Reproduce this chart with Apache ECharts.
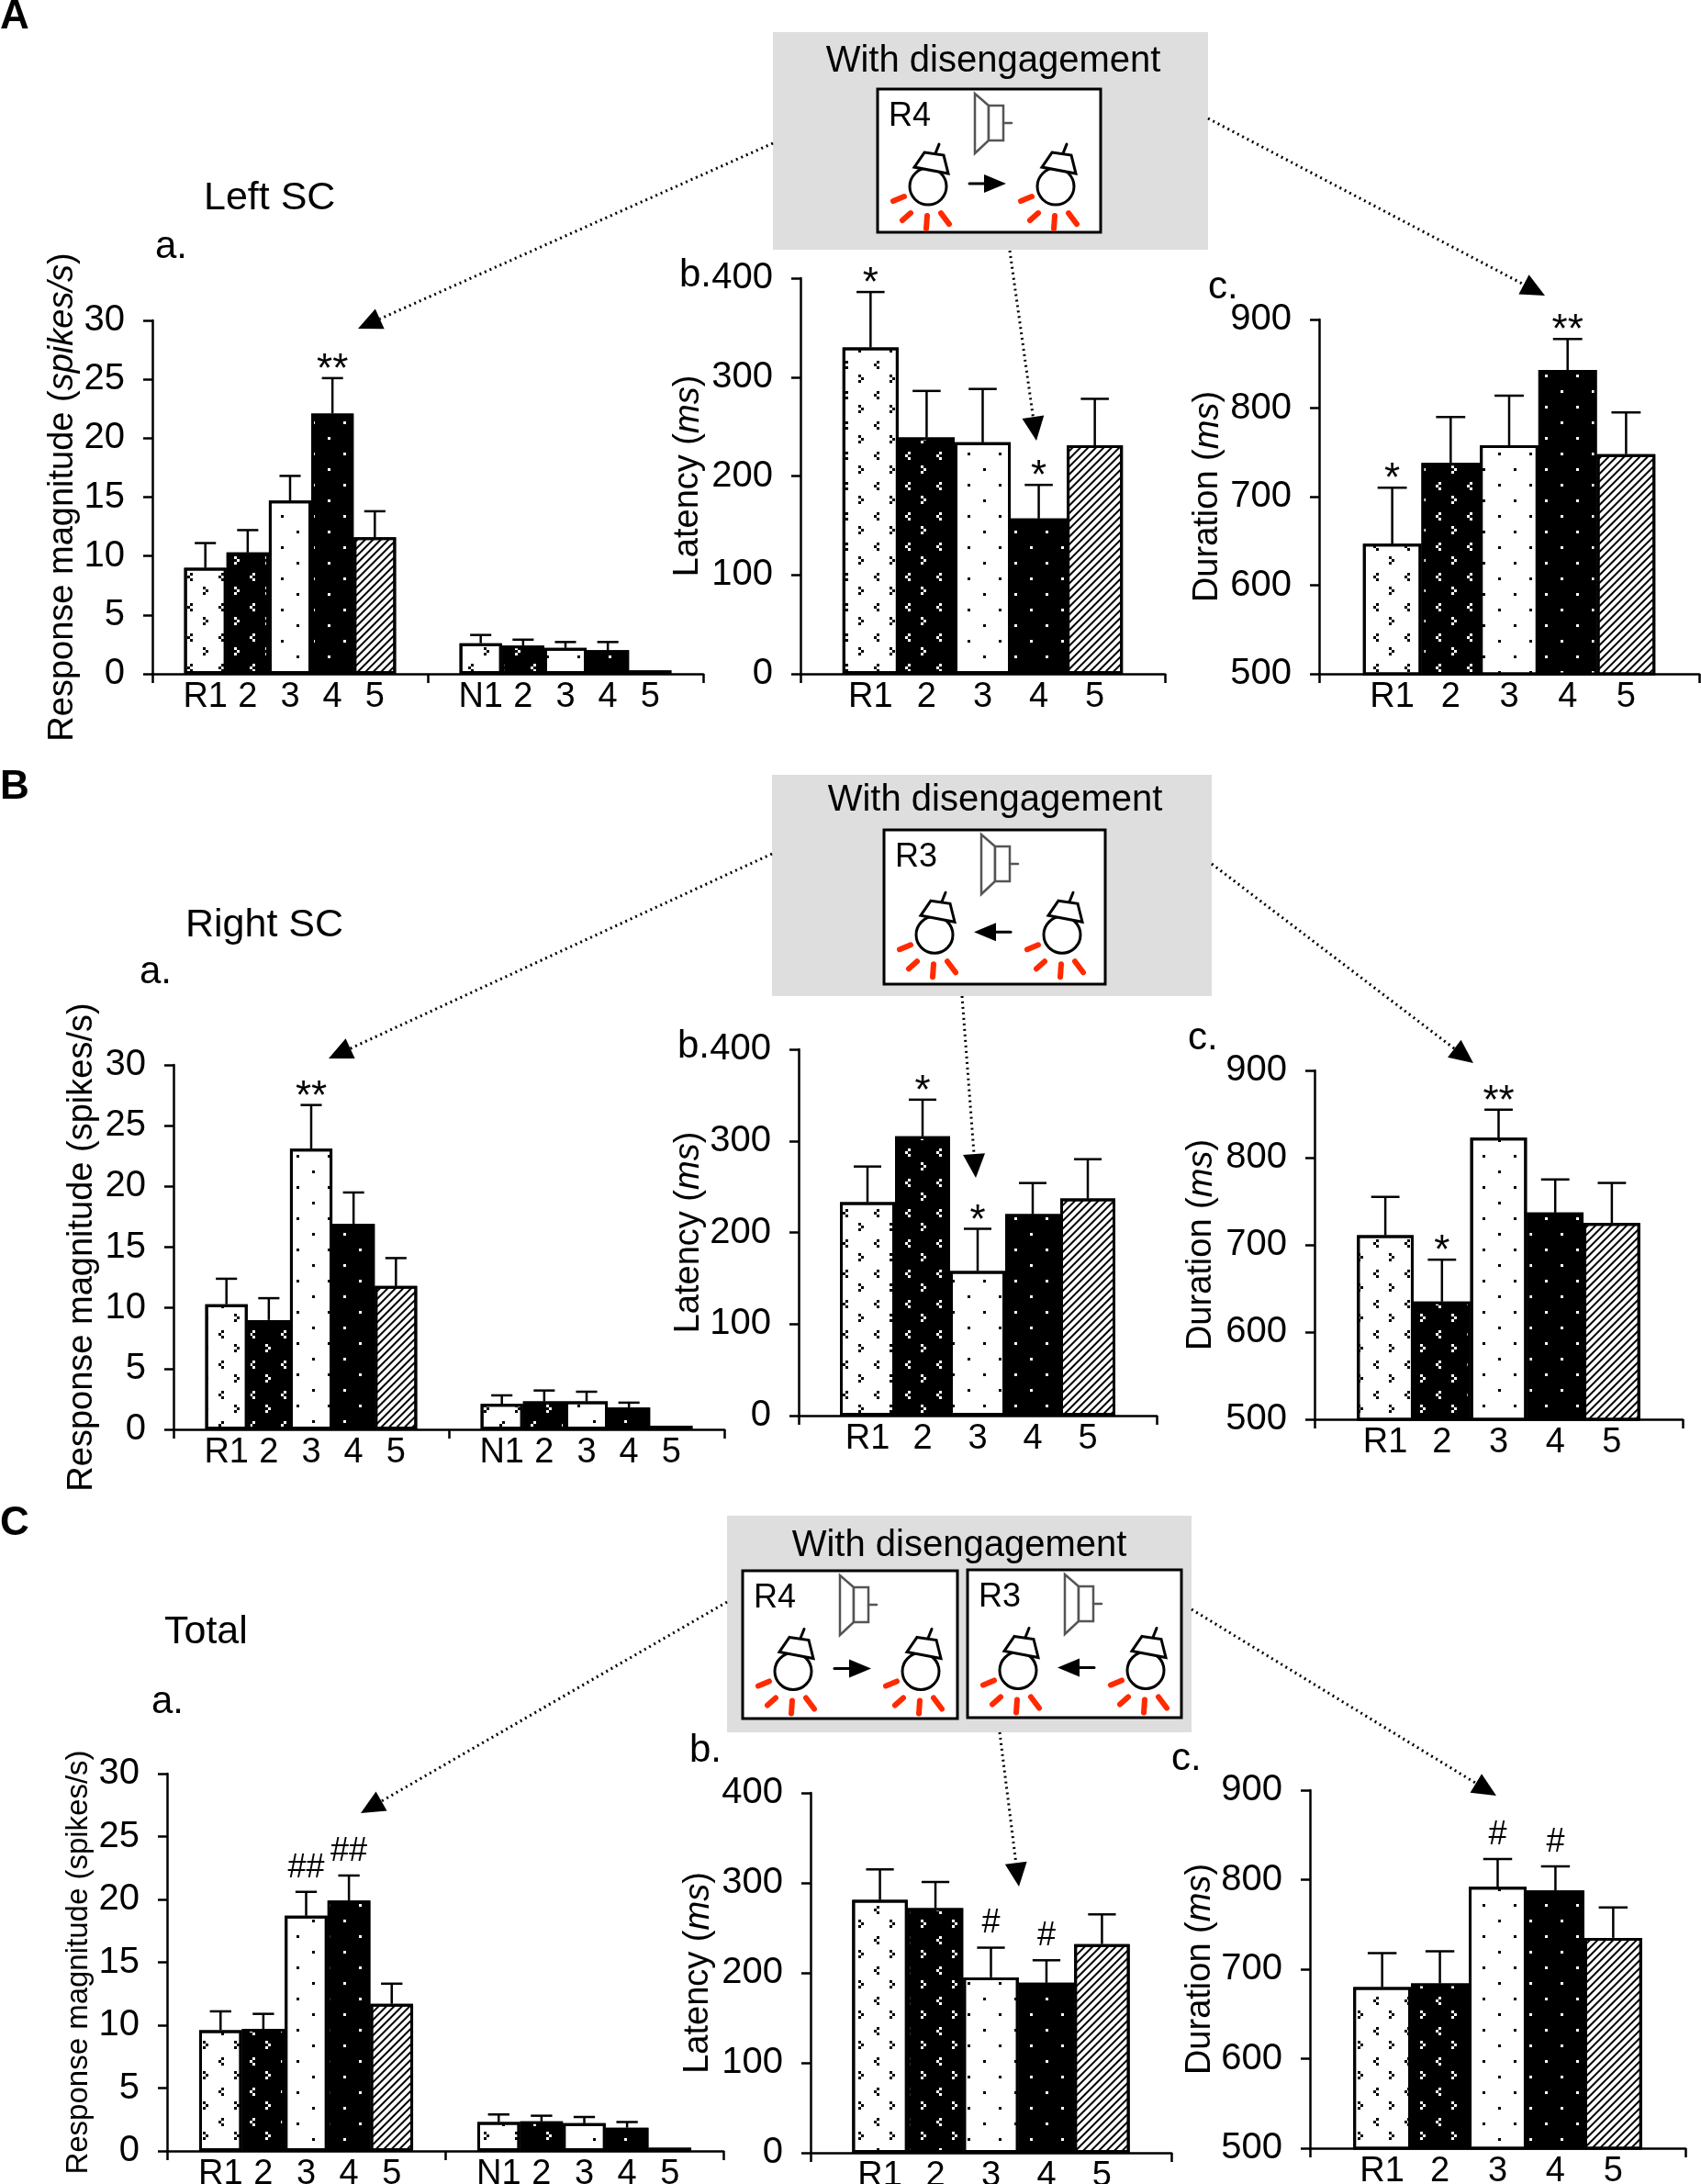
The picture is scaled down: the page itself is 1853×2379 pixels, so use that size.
<!DOCTYPE html>
<html>
<head>
<meta charset="utf-8">
<title>With disengagement - SC responses</title>
<script src="https://cdn.jsdelivr.net/npm/echarts@6/dist/echarts.min.js"></script>
<style>
html,body{margin:0;padding:0;background:#fff}
#chart{width:1853px;height:2379px}
</style>
</head>
<body>
<div id="chart"></div>
<script>
var FONT = "'Liberation Sans', Arial, Helvetica, sans-serif";

// category labels
var rLabels = ['R1', '2', '3', '4', '5'];
var nLabels = ['N1', '2', '3', '4', '5'];

// y axis ticks
var magTicks = [0, 5, 10, 15, 20, 25, 30];
var latTicks = [0, 100, 200, 300, 400];
var durTicks = [500, 600, 700, 800, 900];

// A. Left SC
var leftMagR = [9.0, 10.3, 14.7, 22.1, 11.6];
var leftMagRSem = [2.1, 1.9, 2.1, 3.0, 2.2];
var leftMagRSig = ['', '', '', '**', ''];
var leftMagN = [2.6, 2.4, 2.2, 2.0, 0.3];
var leftMagNSem = [0.7, 0.5, 0.5, 0.7, 0];
var leftLat = [330, 239, 234, 157, 231];
var leftLatSem = [56, 47, 54, 34, 47];
var leftLatSig = ['*', '', '', '*', ''];
var leftDur = [647, 738, 758, 843, 748];
var leftDurSem = [63, 52, 56, 35, 47];
var leftDurSig = ['*', '', '', '**', ''];

// B. Right SC
var rightMagR = [10.3, 9.0, 23.1, 16.9, 11.8];
var rightMagRSem = [2.1, 1.8, 3.6, 2.6, 2.3];
var rightMagRSig = ['', '', '**', '', ''];
var rightMagN = [2.1, 2.3, 2.3, 1.8, 0.3];
var rightMagNSem = [0.7, 0.9, 0.8, 0.4, 0];
var rightLat = [233, 305, 158, 220, 237];
var rightLatSem = [39, 40, 46, 34, 43];
var rightLatSig = ['', '*', '*', '', ''];
var rightDur = [711, 635, 823, 737, 725];
var rightDurSem = [44, 48, 32, 38, 46];
var rightDurSig = ['', '*', '**', '', ''];

// C. Total
var totalMagR = [9.6, 9.7, 18.7, 19.9, 11.7];
var totalMagRSem = [1.5, 1.2, 1.9, 2.0, 1.6];
var totalMagRSig = ['', '', '##', '##', ''];
var totalMagN = [2.3, 2.35, 2.2, 1.85, 0.25];
var totalMagNSem = [0.6, 0.45, 0.5, 0.45, 0];
var totalLat = [281, 272, 195, 189, 232];
var totalLatSem = [34, 29, 33, 25, 33];
var totalLatSig = ['', '', '#', '#', ''];
var totalDur = [680, 684, 792, 788, 735];
var totalDurSem = [38, 36, 31, 27, 34];
var totalDurSig = ['', '', '#', '#', ''];

// bar fills (R1..5) as decal patterns: chevrons, dots, hatching
var chevX = [[0, 3, 3, 28], [3, 31], [0, 3, 3, 28], [0, 34], [0, 34],
             [0, 17, 3, 14], [0, 20, 3, 11], [0, 17, 3, 14], [0, 34], [0, 34], [0, 34]];
var dotX = [[3, 31], [0, 17, 3, 14]];
var fills = [
  {color: '#fff', decal: {symbol: 'rect', symbolSize: 1, color: '#000', dashArrayX: chevX, dashArrayY: [3, 0]}},
  {color: '#000', decal: {symbol: 'rect', symbolSize: 1, color: '#fff', dashArrayX: chevX, dashArrayY: [3, 0]}},
  {color: '#fff', decal: {symbol: 'rect', symbolSize: 1, color: '#000', dashArrayX: dotX, dashArrayY: [3, 14]}},
  {color: '#000', decal: {symbol: 'rect', symbolSize: 1, color: '#fff', dashArrayX: dotX, dashArrayY: [3, 14]}},
  {color: '#fff', decal: {symbol: 'rect', symbolSize: 1, color: '#000', rotation: -Math.PI / 4, dashArrayX: [1, 0], dashArrayY: [2, 4]}}
];

var panels = [
  {box: [166, 349, 766, 734], ticks: magTicks, name: 'Response magnitude ({i|spikes/s})', gap: 76, nameSize: 38,
   groups: [{v: leftMagR, e: leftMagRSem, s: leftMagRSig, l: rLabels}, {v: leftMagN, e: leftMagNSem, s: null, l: nLabels}]},
  {box: [872, 303, 1269, 734], ticks: latTicks, name: 'Latency ({i|ms})', gap: 103, nameSize: 38,
   groups: [{v: leftLat, e: leftLatSem, s: leftLatSig, l: rLabels}]},
  {box: [1437, 348, 1851, 734], ticks: durTicks, name: 'Duration ({i|ms})', gap: 102, nameSize: 38,
   groups: [{v: leftDur, e: leftDurSem, s: leftDurSig, l: rLabels}]},
  {box: [189, 1160, 789, 1557], ticks: magTicks, name: 'Response magnitude (spikes/s)', gap: 80, nameSize: 38,
   groups: [{v: rightMagR, e: rightMagRSem, s: rightMagRSig, l: rLabels}, {v: rightMagN, e: rightMagNSem, s: null, l: nLabels}]},
  {box: [870, 1143, 1260, 1542], ticks: latTicks, name: 'Latency ({i|ms})', gap: 99, nameSize: 38,
   groups: [{v: rightLat, e: rightLatSem, s: rightLatSig, l: rLabels}]},
  {box: [1432, 1166, 1833, 1546], ticks: durTicks, name: 'Duration ({i|ms})', gap: 104, nameSize: 38,
   groups: [{v: rightDur, e: rightDurSem, s: rightDurSig, l: rLabels}]},
  {box: [182, 1932, 788, 2343], ticks: magTicks, name: 'Response magnitude (spikes/s)', gap: 80, nameSize: 33,
   groups: [{v: totalMagR, e: totalMagRSem, s: totalMagRSig, l: rLabels}, {v: totalMagN, e: totalMagNSem, s: null, l: nLabels}]},
  {box: [883, 1953, 1276, 2345], ticks: latTicks, name: 'Latency ({i|ms})', gap: 103, nameSize: 38,
   groups: [{v: totalLat, e: totalLatSem, s: totalLatSig, l: rLabels}]},
  {box: [1427, 1950, 1836, 2340], ticks: durTicks, name: 'Duration ({i|ms})', gap: 86, nameSize: 38,
   groups: [{v: totalDur, e: totalDurSem, s: totalDurSig, l: rLabels}]}
];

var GROUP = 6.5;   // one group = 5 bars + margins, in bar widths
var axisLine = {color: '#000', width: 2.5};

var grids = [], xAxes = [], yAxes = [], series = [];

panels.forEach(function (p, k) {
  var w = p.box[2] - p.box[0];
  var span = GROUP * p.groups.length;
  var unit = w / span;
  var labelPos = [], labelTxt = [], tickPos = [0];
  var bars = [], errs = [], sigs = [];
  p.groups.forEach(function (g, gi) {
    tickPos.push(GROUP * (gi + 1));
    g.v.forEach(function (val, i) {
      var pos = gi * GROUP + 1.25 + i;
      labelPos.push(pos);
      labelTxt.push(g.l[i]);
      bars.push({value: [pos, val], itemStyle: fills[i]});
      errs.push([pos, val, g.e[i]]);
      sigs.push(g.s ? g.s[i] : '');
    });
  });

  grids.push({left: p.box[0], top: p.box[1], width: w, height: p.box[3] - p.box[1], outerBoundsMode: 'none'});

  xAxes.push({
    type: 'value', gridIndex: k, min: 0, max: span,
    axisLine: {show: true, onZero: false, lineStyle: axisLine},
    axisTick: {show: true, customValues: tickPos, length: 10, lineStyle: axisLine},
    axisLabel: {
      customValues: labelPos, fontSize: 38, color: '#000', fontFamily: FONT, margin: 7,
      formatter: function (v) {
        for (var i = 0; i < labelPos.length; i++) {
          if (Math.abs(labelPos[i] - v) < 0.01) return labelTxt[i];
        }
        return '';
      }
    },
    splitLine: {show: false}
  });

  var t = p.ticks;
  yAxes.push({
    type: 'value', gridIndex: k, min: t[0], max: t[t.length - 1], interval: t[1] - t[0],
    axisLine: {show: true, onZero: false, lineStyle: axisLine},
    axisTick: {show: true, length: 10, lineStyle: axisLine},
    axisLabel: {fontSize: 40, color: '#000', fontFamily: FONT, margin: 30},
    splitLine: {show: false},
    name: p.name, nameLocation: 'middle', nameGap: p.gap,
    nameTextStyle: {fontSize: p.nameSize, color: '#000', fontFamily: FONT,
      rich: {i: {fontSize: p.nameSize, color: '#000', fontFamily: FONT, fontStyle: 'italic'}}}
  });

  series.push({
    type: 'bar', xAxisIndex: k, yAxisIndex: k, barWidth: unit, startValue: t[0],
    data: bars, clip: true, z: 2,
    itemStyle: {borderColor: '#000', borderWidth: 3}
  });

  series.push({
    type: 'custom', xAxisIndex: k, yAxisIndex: k, data: errs, z: 3, clip: false,
    encode: {x: 0, y: 1},
    renderItem: function (params, api) {
      var x = api.value(0), m = api.value(1), e = api.value(2);
      var base = api.coord([x, m]);
      var top = api.coord([x, m + e]);
      var cap = unit * 0.25;
      var st = {stroke: '#000', lineWidth: 2.5};
      var children = [];
      if (e > 0) {
        children.push({type: 'line', shape: {x1: base[0], y1: base[1], x2: top[0], y2: top[1]}, style: st});
        children.push({type: 'line', shape: {x1: top[0] - cap, y1: top[1], x2: top[0] + cap, y2: top[1]}, style: st});
      }
      var s = sigs[params.dataIndex];
      if (s) {
        var hash = s.indexOf('#') >= 0;
        children.push({
          type: 'text', x: top[0], y: top[1] - (hash ? 26 : 8),
          style: {text: s, fill: '#000', fontSize: hash ? 36 : 44, fontFamily: FONT,
            align: 'center', verticalAlign: 'middle', textAlign: 'center', textVerticalAlign: 'middle'}
        });
      }
      return {type: 'group', children: children};
    }
  });
});

// ---- drawing helpers for annotations ----
function txt(s, x, y, size, opt) {
  opt = opt || {};
  return {type: 'text', x: x, y: y, z: 30,
    style: {text: s, fill: '#000', fontSize: size, fontFamily: FONT, fontWeight: opt.weight || 'normal',
      align: opt.align || 'left', verticalAlign: 'middle'}};
}
function line(x1, y1, x2, y2, color, width) {
  return {type: 'line', z: 22, shape: {x1: x1, y1: y1, x2: x2, y2: y2},
    style: {stroke: color, lineWidth: width, lineCap: 'round'}};
}
function dotArrow(x1, y1, x2, y2) {
  var dx = x2 - x1, dy = y2 - y1, len = Math.sqrt(dx * dx + dy * dy);
  var ux = dx / len, uy = dy / len, hl = 26, hw = 12;
  var bx = x2 - ux * hl, by = y2 - uy * hl;
  return [
    {type: 'line', z: 25, shape: {x1: x1, y1: y1, x2: bx, y2: by},
      style: {stroke: '#000', lineWidth: 3, lineDash: [2, 4]}},
    {type: 'polygon', z: 25, shape: {points: [[x2, y2], [bx - uy * hw, by + ux * hw], [bx + uy * hw, by - ux * hw]]},
      style: {fill: '#000'}}
  ];
}
function mouse(cx, cy) {
  var red = '#ff2a00';
  return [
    {type: 'circle', z: 22, shape: {cx: cx, cy: cy, r: 20}, style: {fill: '#fff', stroke: '#000', lineWidth: 3}},
    {type: 'polygon', z: 23, shape: {points: [[cx - 4, cy - 37], [cx + 17, cy - 34], [cx + 22, cy - 14], [cx - 15, cy - 21]]},
      style: {fill: '#fff', stroke: '#000', lineWidth: 3}},
    line(cx + 8, cy - 36, cx + 12, cy - 46, '#000', 3),
    line(cx - 38, cy + 16, cx - 26, cy + 11, red, 6),
    line(cx - 28, cy + 37, cx - 19, cy + 29, red, 6),
    line(cx - 2, cy + 46, cx - 1, cy + 32, red, 6),
    line(cx + 14, cy + 29, cx + 23, cy + 41, red, 6)
  ];
}
function scene(b, label, dir) {
  var L = b[0], T = b[1], W = b[2] - b[0], H = b[3] - b[1];
  var cy = T + 0.68 * H, ay = cy - 3, sp = '#555';
  var els = [
    {type: 'rect', z: 21, shape: {x: L, y: T, width: W, height: H}, style: {fill: '#fff', stroke: '#000', lineWidth: 3}},
    txt(label, L + 12, T + 30, 36),
    {type: 'polygon', z: 22, shape: {points: [[L + 121, T + 18], [L + 106, T + 5], [L + 106, T + 70], [L + 121, T + 56]]},
      style: {fill: '#fff', stroke: sp, lineWidth: 2.5}},
    {type: 'rect', z: 22, shape: {x: L + 121, y: T + 18, width: 16, height: 38}, style: {fill: '#fff', stroke: sp, lineWidth: 2.5}},
    line(L + 137, T + 37, L + 146, T + 37, sp, 2.5)
  ];
  if (dir > 0) {
    els.push(line(L + 100, ay, L + 118, ay, '#000', 3));
    els.push({type: 'polygon', z: 22, shape: {points: [[L + 116, ay - 10], [L + 140, ay], [L + 116, ay + 10]]}, style: {fill: '#000'}});
  } else {
    els.push(line(L + 120, ay, L + 138, ay, '#000', 3));
    els.push({type: 'polygon', z: 22, shape: {points: [[L + 122, ay - 10], [L + 98, ay], [L + 122, ay + 10]]}, style: {fill: '#000'}});
  }
  return els.concat(mouse(L + 55, cy), mouse(L + 194, cy));
}
function greyBox(b) {
  return {type: 'rect', z: 20, shape: {x: b[0], y: b[1], width: b[2] - b[0], height: b[3] - b[1]}, style: {fill: '#dedede'}};
}

var graphics = [];
graphics.push(txt('A', 0, 19, 44, {weight: 'bold'}));
graphics.push(txt('B', 0, 858, 44, {weight: 'bold'}));
graphics.push(txt('C', 0, 1660, 44, {weight: 'bold'}));
graphics.push(txt('Left SC', 222, 216, 43));
graphics.push(txt('Right SC', 202, 1008, 43));
graphics.push(txt('Total', 179, 1778, 43));
graphics.push(txt('a.', 169, 269, 42));
graphics.push(txt('b.', 740, 300, 42));
graphics.push(txt('c.', 1316, 313, 42));
graphics.push(txt('a.', 152, 1059, 42));
graphics.push(txt('b.', 738, 1140, 42));
graphics.push(txt('c.', 1294, 1131, 42));
graphics.push(txt('a.', 165, 1854, 42));
graphics.push(txt('b.', 751, 1907, 42));
graphics.push(txt('c.', 1276, 1916, 42));

// inset A
graphics.push(greyBox([842, 35, 1316, 272]));
graphics.push(txt('With disengagement', 1082, 67, 40, {align: 'center'}));
graphics = graphics.concat(scene([956, 97, 1199, 253], 'R4', 1));
graphics = graphics.concat(dotArrow(842, 156, 390, 358), dotArrow(1100, 273, 1129, 480), dotArrow(1316, 129, 1683, 322));
// inset B
graphics.push(greyBox([841, 844, 1320, 1085]));
graphics.push(txt('With disengagement', 1084, 872, 40, {align: 'center'}));
graphics = graphics.concat(scene([963, 904, 1204, 1072], 'R3', -1));
graphics = graphics.concat(dotArrow(841, 930, 358, 1153), dotArrow(1048, 1085, 1063, 1283), dotArrow(1320, 941, 1605, 1158));
// inset C
graphics.push(greyBox([792, 1651, 1298, 1887]));
graphics.push(txt('With disengagement', 1045, 1684, 40, {align: 'center'}));
graphics = graphics.concat(scene([809, 1711, 1043, 1872], 'R4', 1), scene([1054, 1710, 1287, 1871], 'R3', -1));
graphics = graphics.concat(dotArrow(792, 1745, 393, 1975), dotArrow(1089, 1887, 1110, 2055), dotArrow(1298, 1753, 1630, 1956));

var chart = echarts.init(document.getElementById('chart'), null, {renderer: 'canvas'});
chart.setOption({
  backgroundColor: '#fff',
  animation: false,
  textStyle: {fontFamily: FONT, color: '#000'},
  grid: grids,
  xAxis: xAxes,
  yAxis: yAxes,
  series: series,
  graphic: graphics
});
</script>
</body>
</html>
